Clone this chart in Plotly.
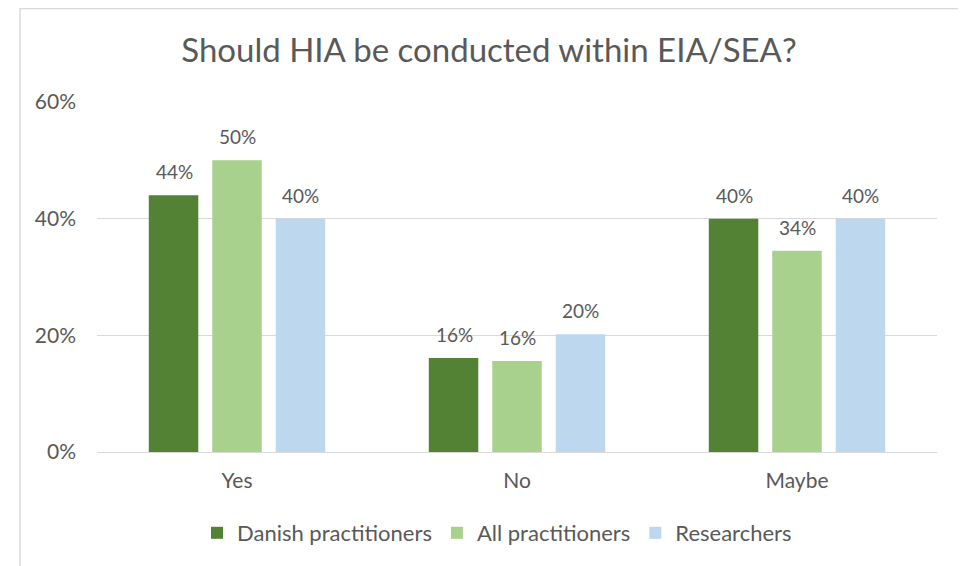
import plotly.graph_objects as go

categories = ["Yes", "No", "Maybe"]
danish = [0.44, 0.161, 0.40]
all_pract = [0.50, 0.156, 0.345]
researchers = [0.40, 0.202, 0.40]
labels_danish = ["44%", "16%", "40%"]
labels_all = ["50%", "16%", "34%"]
labels_res = ["40%", "20%", "40%"]
series_names = ["Danish practitioners", "All practitioners", "Researchers"]
colors = ["#548235", "#A9D18E", "#BDD7EE"]
title = "Should HIA be conducted within EIA/SEA?"

FONT = "Lato"
TXT = "#595959"
OFF = 8  # page body margin

fig = go.Figure()
series = [danish, all_pract, researchers]
labels = [labels_danish, labels_all, labels_res]
for name, vals, col in zip(series_names, series, colors):
    fig.add_trace(go.Bar(x=categories, y=vals, name=name, marker=dict(color=col, line_width=0)))

W, H = 966 - OFF, 566 - OFF
L, R, T = 97 - OFF, 29, 102 - OFF
B = (OFF + H) - 452
pw = W - L - R
ph = H - T - B
slot = 63
for i, (vals, labs) in enumerate(zip(series, labels)):
    for c, v, t in zip(categories, vals, labs):
        fig.add_annotation(x=c, y=v, xref="x", yref="y", text=t, showarrow=False,
                           xshift=(i - 1) * slot, yanchor="bottom", yshift=10,
                           font=dict(family=FONT, size=19, color=TXT))

def px2paper_x(px):
    return (px - OFF - L) / pw
def px2paper_y(py):
    return (H - B - (py - OFF)) / ph

grey = "#D9D9D9"
fig.add_shape(type="line", xref="paper", yref="paper",
              x0=px2paper_x(20), x1=px2paper_x(963), y0=px2paper_y(8.5), y1=px2paper_y(8.5),
              line=dict(color=grey, width=1.5))
fig.add_shape(type="line", xref="paper", yref="paper",
              x0=px2paper_x(20), x1=px2paper_x(20), y0=px2paper_y(8), y1=px2paper_y(570),
              line=dict(color=grey, width=1.5))
fig.add_shape(type="line", xref="paper", yref="paper",
              x0=px2paper_x(962.5), x1=px2paper_x(962.5), y0=px2paper_y(8), y1=px2paper_y(570),
              line=dict(color=grey, width=1.5))
fig.add_shape(type="line", xref="paper", yref="paper",
              x0=px2paper_x(964.5), x1=px2paper_x(964.5), y0=px2paper_y(0), y1=px2paper_y(570),
              line=dict(color="#404040", width=1.5))

fig.update_layout(
    width=W, height=H,
    margin=dict(l=L, r=R, t=T, b=B),
    paper_bgcolor="white", plot_bgcolor="white",
    barmode="group", bargap=0.32, bargroupgap=0.22,
    title=dict(text=title, x=(489 - OFF) / W, xref="container", xanchor="center",
               y=1 - (50 - OFF) / H, yref="container", yanchor="middle",
               font=dict(family=FONT, size=33, color=TXT)),
    font=dict(family=FONT, color=TXT),
    showlegend=True,
    legend=dict(orientation="h", x=(497 - OFF) / W, xanchor="center", xref="container",
                y=(OFF + H - 533) / H, yanchor="middle", yref="container",
                font=dict(family=FONT, size=22, color=TXT),
                itemwidth=30, tracegroupgap=0),
    xaxis=dict(showgrid=False, showline=False, zeroline=False, ticks="",
               tickfont=dict(family=FONT, size=21, color=TXT), ticklabelstandoff=14),
    yaxis=dict(range=[0, 0.6], dtick=0.2, tickformat=".0%", showgrid=True,
               gridcolor=grey, gridwidth=1.3, zeroline=True, zerolinecolor=grey,
               zerolinewidth=1.3, showline=False, ticks="",
               tickfont=dict(family=FONT, size=21, color=TXT), ticklabelstandoff=20),
)

fig.write_html("out.html")
